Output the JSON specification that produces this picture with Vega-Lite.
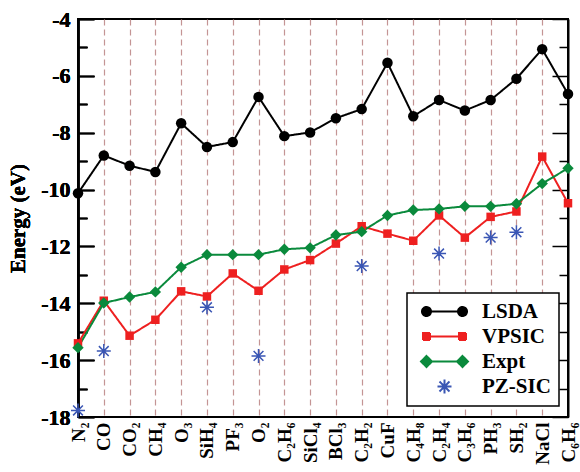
{
  "$schema": "https://vega.github.io/schema/vega-lite/v6.json",
  "width": 490,
  "height": 398,
  "autosize": "none",
  "padding": {"left": 78, "top": 19, "right": 12, "bottom": 55},
  "background": "white",
  "config": {
    "view": {"stroke": "black", "strokeWidth": 2},
    "font": "Liberation Serif"
  },
  "data": {
    "values": [
      {"mol": "N₂", "series": "LSDA", "value": -10.13},
      {"mol": "CO", "series": "LSDA", "value": -8.80},
      {"mol": "CO₂", "series": "LSDA", "value": -9.16},
      {"mol": "CH₄", "series": "LSDA", "value": -9.38},
      {"mol": "O₃", "series": "LSDA", "value": -7.67},
      {"mol": "SiH₄", "series": "LSDA", "value": -8.50},
      {"mol": "PF₃", "series": "LSDA", "value": -8.33},
      {"mol": "O₂", "series": "LSDA", "value": -6.74},
      {"mol": "C₂H₆", "series": "LSDA", "value": -8.12},
      {"mol": "SiCl₄", "series": "LSDA", "value": -7.99},
      {"mol": "BCl₃", "series": "LSDA", "value": -7.49},
      {"mol": "C₂H₂", "series": "LSDA", "value": -7.17},
      {"mol": "CuF", "series": "LSDA", "value": -5.54},
      {"mol": "C₄H₈", "series": "LSDA", "value": -7.42},
      {"mol": "C₂H₄", "series": "LSDA", "value": -6.85},
      {"mol": "C₃H₆", "series": "LSDA", "value": -7.22},
      {"mol": "PH₃", "series": "LSDA", "value": -6.85},
      {"mol": "SH₂", "series": "LSDA", "value": -6.10},
      {"mol": "NaCl", "series": "LSDA", "value": -5.06},
      {"mol": "C₆H₆", "series": "LSDA", "value": -6.64},
      {"mol": "N₂", "series": "VPSIC", "value": -15.41},
      {"mol": "CO", "series": "VPSIC", "value": -13.91},
      {"mol": "CO₂", "series": "VPSIC", "value": -15.14},
      {"mol": "CH₄", "series": "VPSIC", "value": -14.58},
      {"mol": "O₃", "series": "VPSIC", "value": -13.58},
      {"mol": "SiH₄", "series": "VPSIC", "value": -13.76},
      {"mol": "PF₃", "series": "VPSIC", "value": -12.95},
      {"mol": "O₂", "series": "VPSIC", "value": -13.56},
      {"mol": "C₂H₆", "series": "VPSIC", "value": -12.81},
      {"mol": "SiCl₄", "series": "VPSIC", "value": -12.48},
      {"mol": "BCl₃", "series": "VPSIC", "value": -11.90},
      {"mol": "C₂H₂", "series": "VPSIC", "value": -11.29},
      {"mol": "CuF", "series": "VPSIC", "value": -11.55},
      {"mol": "C₄H₈", "series": "VPSIC", "value": -11.80},
      {"mol": "C₂H₄", "series": "VPSIC", "value": -10.91},
      {"mol": "C₃H₆", "series": "VPSIC", "value": -11.69},
      {"mol": "PH₃", "series": "VPSIC", "value": -10.96},
      {"mol": "SH₂", "series": "VPSIC", "value": -10.77},
      {"mol": "NaCl", "series": "VPSIC", "value": -8.84},
      {"mol": "C₆H₆", "series": "VPSIC", "value": -10.48},
      {"mol": "N₂", "series": "Expt", "value": -15.56},
      {"mol": "CO", "series": "Expt", "value": -13.99},
      {"mol": "CO₂", "series": "Expt", "value": -13.78},
      {"mol": "CH₄", "series": "Expt", "value": -13.60},
      {"mol": "O₃", "series": "Expt", "value": -12.73},
      {"mol": "SiH₄", "series": "Expt", "value": -12.29},
      {"mol": "PF₃", "series": "Expt", "value": -12.29},
      {"mol": "O₂", "series": "Expt", "value": -12.29},
      {"mol": "C₂H₆", "series": "Expt", "value": -12.10},
      {"mol": "SiCl₄", "series": "Expt", "value": -12.05},
      {"mol": "BCl₃", "series": "Expt", "value": -11.60},
      {"mol": "C₂H₂", "series": "Expt", "value": -11.48},
      {"mol": "CuF", "series": "Expt", "value": -10.91},
      {"mol": "C₄H₈", "series": "Expt", "value": -10.72},
      {"mol": "C₂H₄", "series": "Expt", "value": -10.68},
      {"mol": "C₃H₆", "series": "Expt", "value": -10.59},
      {"mol": "PH₃", "series": "Expt", "value": -10.59},
      {"mol": "SH₂", "series": "Expt", "value": -10.50},
      {"mol": "NaCl", "series": "Expt", "value": -9.79},
      {"mol": "C₆H₆", "series": "Expt", "value": -9.25},
      {"mol": "N₂", "series": "PZ-SIC", "value": -17.77},
      {"mol": "CO", "series": "PZ-SIC", "value": -15.68},
      {"mol": "SiH₄", "series": "PZ-SIC", "value": -14.14},
      {"mol": "O₂", "series": "PZ-SIC", "value": -15.85},
      {"mol": "C₂H₂", "series": "PZ-SIC", "value": -12.69},
      {"mol": "C₂H₄", "series": "PZ-SIC", "value": -12.25},
      {"mol": "PH₃", "series": "PZ-SIC", "value": -11.69},
      {"mol": "SH₂", "series": "PZ-SIC", "value": -11.50}
    ]
  },
  "encoding": {
    "x": {
      "field": "mol",
      "type": "nominal",
      "sort": ["N₂", "CO", "CO₂", "CH₄", "O₃", "SiH₄", "PF₃", "O₂", "C₂H₆", "SiCl₄", "BCl₃", "C₂H₂", "CuF", "C₄H₈", "C₂H₄", "C₃H₆", "PH₃", "SH₂", "NaCl", "C₆H₆"],
      "scale": {"type": "point", "padding": 0},
      "axis": {
        "title": null,
        "orient": "bottom",
        "labelAngle": -90,
        "labelAlign": "right",
        "labelBaseline": "middle",
        "labelFont": "Liberation Serif",
        "labelFontSize": 19,
        "labelFontWeight": "bold",
        "labelColor": "black",
        "labelPadding": 5,
        "ticks": false,
        "domain": false,
        "grid": true,
        "gridColor": "#c49494",
        "gridDash": [6, 4],
        "gridWidth": 1.2,
        "gridOpacity": {"condition": {"test": "datum.value === 'N₂' || datum.value === 'C₆H₆'", "value": 0}, "value": 1},
        "labelOverlap": false
      }
    },
    "y": {
      "field": "value",
      "type": "quantitative",
      "scale": {"domain": [-18, -4], "nice": false, "zero": false},
      "axis": {
        "orient": "left",
        "title": "Energy (eV)",
        "titleFont": "Liberation Serif",
        "titleFontSize": 21,
        "titleFontWeight": "bold",
        "titleColor": "black",
        "titlePadding": 12,
        "values": [-18, -17, -16, -15, -14, -13, -12, -11, -10, -9, -8, -7, -6, -5, -4],
        "labelExpr": "datum.value % 2 === 0 ? '' + datum.value : ''",
        "labelFont": "Liberation Serif",
        "labelFontSize": 22,
        "labelFontWeight": "bold",
        "labelColor": "black",
        "labelPadding": 24,
        "labelOverlap": false,
        "labelFlush": false,
        "tickColor": "black",
        "tickWidth": 1.5,
        "tickSize": {"condition": {"test": "datum.value % 2 !== 0", "value": -9}, "value": -16},
        "domainColor": "black",
        "domainWidth": 2,
        "grid": false
      }
    }
  },
  "layer": [
    {
      "transform": [{"filter": "datum.series !== 'PZ-SIC'"}],
      "mark": {"type": "line", "strokeWidth": 2},
      "encoding": {
        "color": {
          "field": "series",
          "type": "nominal",
          "scale": {"domain": ["PZ-SIC", "LSDA", "VPSIC", "Expt"], "range": ["#3a56b4", "#000000", "#ee2020", "#0a8a3c"]},
          "legend": null
        },
        "strokeDash": {
          "field": "series",
          "type": "nominal",
          "scale": {"domain": ["LSDA", "VPSIC", "Expt", "PZ-SIC"], "range": [[1, 0], [1, 0], [1, 0], [1, 0]]},
          "legend": {
            "title": null,
            "orient": "none",
            "legendX": 329,
            "legendY": 274,
            "strokeColor": "black",
            "fillColor": "white",
            "padding": 8,
            "labelFont": "Liberation Serif",
            "labelFontSize": 21,
            "labelFontWeight": "bold",
            "labelColor": "black",
            "symbolSize": 100,
            "symbolOffset": 19,
            "labelOffset": 27,
            "rowPadding": 3,
            "encode": {
              "legend": {"update": {"strokeWidth": {"value": 1.5}}},
              "symbols": {
                "update": {
                  "shape": {"signal": "datum.value === 'LSDA' ? 'M-3.6,0H3.6M-4.5,0A0.9,0.9,0,1,1,-2.7,0A0.9,0.9,0,1,1,-4.5,0ZM2.7,0A0.9,0.9,0,1,1,4.5,0A0.9,0.9,0,1,1,2.7,0Z' : datum.value === 'VPSIC' ? 'M-3.6,0H3.6M-4.3,-0.7H-2.9V0.7H-4.3ZM2.9,-0.7H4.3V0.7H2.9Z' : datum.value === 'Expt' ? 'M-3.6,0H3.6M-4.7,0L-3.6,-1.1L-2.5,0L-3.6,1.1ZM2.5,0L3.6,-1.1L4.7,0L3.6,1.1Z' : 'M-1.4,0H1.4M0,-1.4V1.4M-1,-1L1,1M-1,1L1,-1'"},
                  "fill": {"signal": "datum.value === 'LSDA' ? '#000000' : datum.value === 'VPSIC' ? '#ee2020' : datum.value === 'Expt' ? '#0a8a3c' : 'transparent'"},
                  "stroke": {"signal": "datum.value === 'LSDA' ? '#000000' : datum.value === 'VPSIC' ? '#ee2020' : datum.value === 'Expt' ? '#0a8a3c' : '#3a56b4'"},
                  "strokeWidth": {"value": 2},
                  "opacity": {"value": 1}
                }
              }
            }
          }
        }
      }
    },
    {
      "transform": [{"filter": "datum.series === 'LSDA'"}],
      "mark": {"type": "point", "filled": true, "opacity": 1, "shape": "circle", "size": 110, "color": "#000000"},
      "encoding": {
        "y": {
          "field": "value",
          "type": "quantitative",
          "scale": {"domain": [-18, -4], "nice": false, "zero": false},
          "axis": {
            "orient": "right",
            "title": null,
            "labels": false,
            "values": [-18, -17, -16, -15, -14, -13, -12, -11, -10, -9, -8, -7, -6, -5, -4],
            "tickColor": "black",
            "tickWidth": 1.5,
            "tickSize": {"condition": {"test": "datum.value % 2 !== 0", "value": -9}, "value": -16},
            "domainColor": "black",
            "domainWidth": 2,
            "grid": false
          }
        }
      }
    },
    {
      "transform": [{"filter": "datum.series === 'VPSIC'"}],
      "mark": {"type": "point", "filled": true, "opacity": 1, "shape": "square", "size": 72, "color": "#ee2020"}
    },
    {
      "transform": [{"filter": "datum.series === 'Expt'"}],
      "mark": {"type": "point", "filled": true, "opacity": 1, "shape": "diamond", "size": 130, "color": "#0a8a3c"}
    },
    {
      "transform": [{"filter": "datum.series === 'PZ-SIC'"}],
      "mark": {"type": "point", "filled": false, "opacity": 1, "strokeWidth": 1.5, "color": "#3a56b4", "shape": "M-1,0H1M0,-1V1M-0.7,-0.7L0.7,0.7M-0.7,0.7L0.7,-0.7", "size": 196}
    }
  ],
  "resolve": {"axis": {"y": "independent"}}
}
